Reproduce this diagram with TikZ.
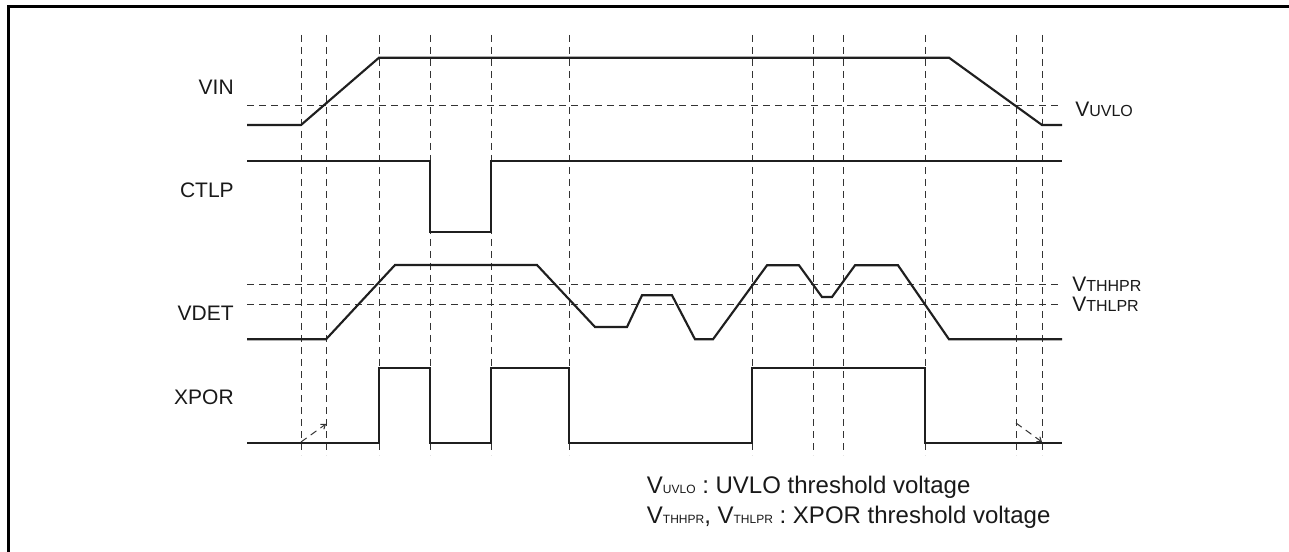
\documentclass[tikz,border=0pt]{standalone}
\usepackage{fontspec}
\setmainfont{Liberation Sans}
\usetikzlibrary{arrows.meta}
\newcommand{\lblfont}{\fontsize{15.75}{18}\selectfont}
\newcommand{\lblsub}{\fontsize{12}{14}\selectfont}
\newcommand{\legfont}{\fontsize{18}{21}\selectfont}
\newcommand{\legsub}{\fontsize{9}{11}\selectfont}
\begin{document}
\begin{tikzpicture}[x=0.75pt,y=-0.75pt,
  sig/.style={line width=1.6pt, color=black!88, line join=miter},
  gridline/.style={line width=0.75pt, color=black!80, dash pattern=on 5.25pt off 3.75pt},
  delay/.style={gridline, -{Straight Barb[length=3pt,width=4.5pt]}},
  lbl/.style={inner sep=0pt, text=black!90, font=\lblfont},
  leg/.style={inner sep=0pt, text=black!90, font=\legfont},
]
\clip (0,0) rectangle (1289,552);
\fill[white] (0,0) rectangle (1289,552);
% frame
\draw[line width=2.25pt] (8,570) -- (8,7) -- (1300,7);

% vertical time markers
\foreach \x in {301,326,379,430,491,569,752,813,843,925,1016,1042}
  \draw[gridline] (\x,35) -- (\x,455);

% threshold lines
\draw[gridline] (247,105.3) -- (1062,105.3);
\draw[gridline] (247,284.7) -- (1062,284.7);
\draw[gridline] (247,304.3) -- (1062,304.3);

% VIN
\draw[sig] (247,125) -- (301,125) -- (379,57.7) -- (949,57.7) -- (1042,125) -- (1062,125);
% CTLP
\draw[sig] (247,160.7) -- (430,160.7) -- (430,232) -- (491,232) -- (491,160.7) -- (1062,160.7);
% VDET
\draw[sig] (247,339.3) -- (326,339.3) -- (395,265) -- (537,265) -- (595,327) -- (627,327)
  -- (642,295.3) -- (672,295.3) -- (695,339.3) -- (713,339.3) -- (767,265.3) -- (799,265.3)
  -- (822,297) -- (832,297) -- (855,265.3) -- (898,265.3) -- (949,339.3) -- (1062,339.3);
% XPOR
\draw[sig] (247,442.7) -- (379,442.7) -- (379,368.3) -- (430,368.3) -- (430,442.7)
  -- (491,442.7) -- (491,368.3) -- (569,368.3) -- (569,442.7) -- (752,442.7)
  -- (752,368.3) -- (925,368.3) -- (925,442.7) -- (1062,442.7);

% delay arrows
\draw[delay] (301,442) -- (326,424);
\draw[delay] (1016,423) -- (1042,442);

% signal names
\node[lbl, anchor=base east] (vin)  at (234,95)    {VIN};
\node[lbl, anchor=base east] (ctlp) at (234,197.3) {CTLP};
\node[lbl, anchor=base east] (vdet) at (234,320.7) {VDET};
\node[lbl, anchor=base east] (xpor) at (234,404)   {XPOR};

% threshold names
\node[lbl, anchor=base west] (uvlo) at (1075,116.7) {V{\lblsub UVLO}};
\node[lbl, anchor=base west] (thh)  at (1072,291.7) {V{\lblsub THHPR}};
\node[lbl, anchor=base west] (thl)  at (1072,311.7) {V{\lblsub THLPR}};

% legend
\node[leg, anchor=base west] (leg1) at (646.7,493.3) {V{\legsub UVLO} : UVLO threshold voltage};
\node[leg, anchor=base west] (leg2) at (646.7,523.3) {V{\legsub THHPR}, V{\legsub THLPR} : XPOR threshold voltage};
\end{tikzpicture}
\end{document}
